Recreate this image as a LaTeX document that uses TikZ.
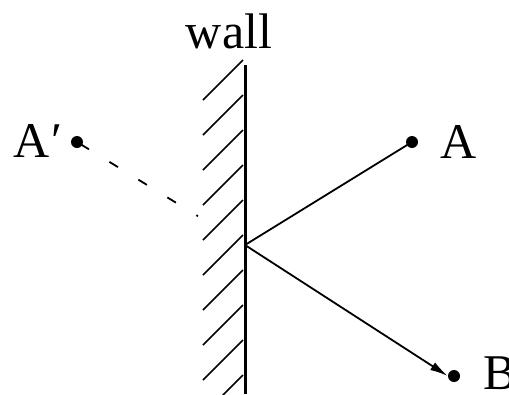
\documentclass[tikz,border=0pt]{standalone}
\usepackage{fontspec}
\setmainfont{Liberation Serif}
\usetikzlibrary{arrows.meta,calc}
\begin{document}
\begin{tikzpicture}[x=1pt,y=-1pt,
  dotnode/.style={circle,fill=black,inner sep=0pt,minimum size=12pt},
  lbl/.style={font=\fontsize{50}{50}\selectfont,inner sep=0pt,anchor=base west},
  ray/.style={line width=1.8pt},
  hatch/.style={line width=1.6pt}]
\useasboundingbox (0,0) rectangle (509,394);
% wall
\coordinate (wtop) at (245,65);
\coordinate (wbot) at (245,394);
\coordinate (P) at (245,245);
\foreach \y in {100,135,170,205,240,275,310,345,380,415}
  \draw[hatch] (203,\y) -- (243,\y-40);
\draw[line width=3pt] (wtop) -- (wbot);
\node[font=\fontsize{50}{50}\selectfont,inner sep=0pt,anchor=base] (wl) at (229,48) {wall};
% points
\node[dotnode] (Ap) at (77,142) {};
\node[dotnode] (A) at (412,142) {};
\node[dotnode] (B) at (454,376) {};
\node[lbl] (lAp) at (13,157) {A\kern2pt′};
\node[lbl] (lA) at (440,158) {A};
\node[lbl] (lB) at (483,389) {B};
% rays
\draw[ray] (A.center) -- (P);
\draw[ray,-{Latex[length=18pt,width=9pt]}] (P) -- (B.west);
\coordinate (Dend) at ($(Ap.center)!0.72!(P)$);
\draw[ray,dash pattern=on 10pt off 24pt,dash phase=-4pt] (Ap.center) -- (Dend);
\end{tikzpicture}
\end{document}
